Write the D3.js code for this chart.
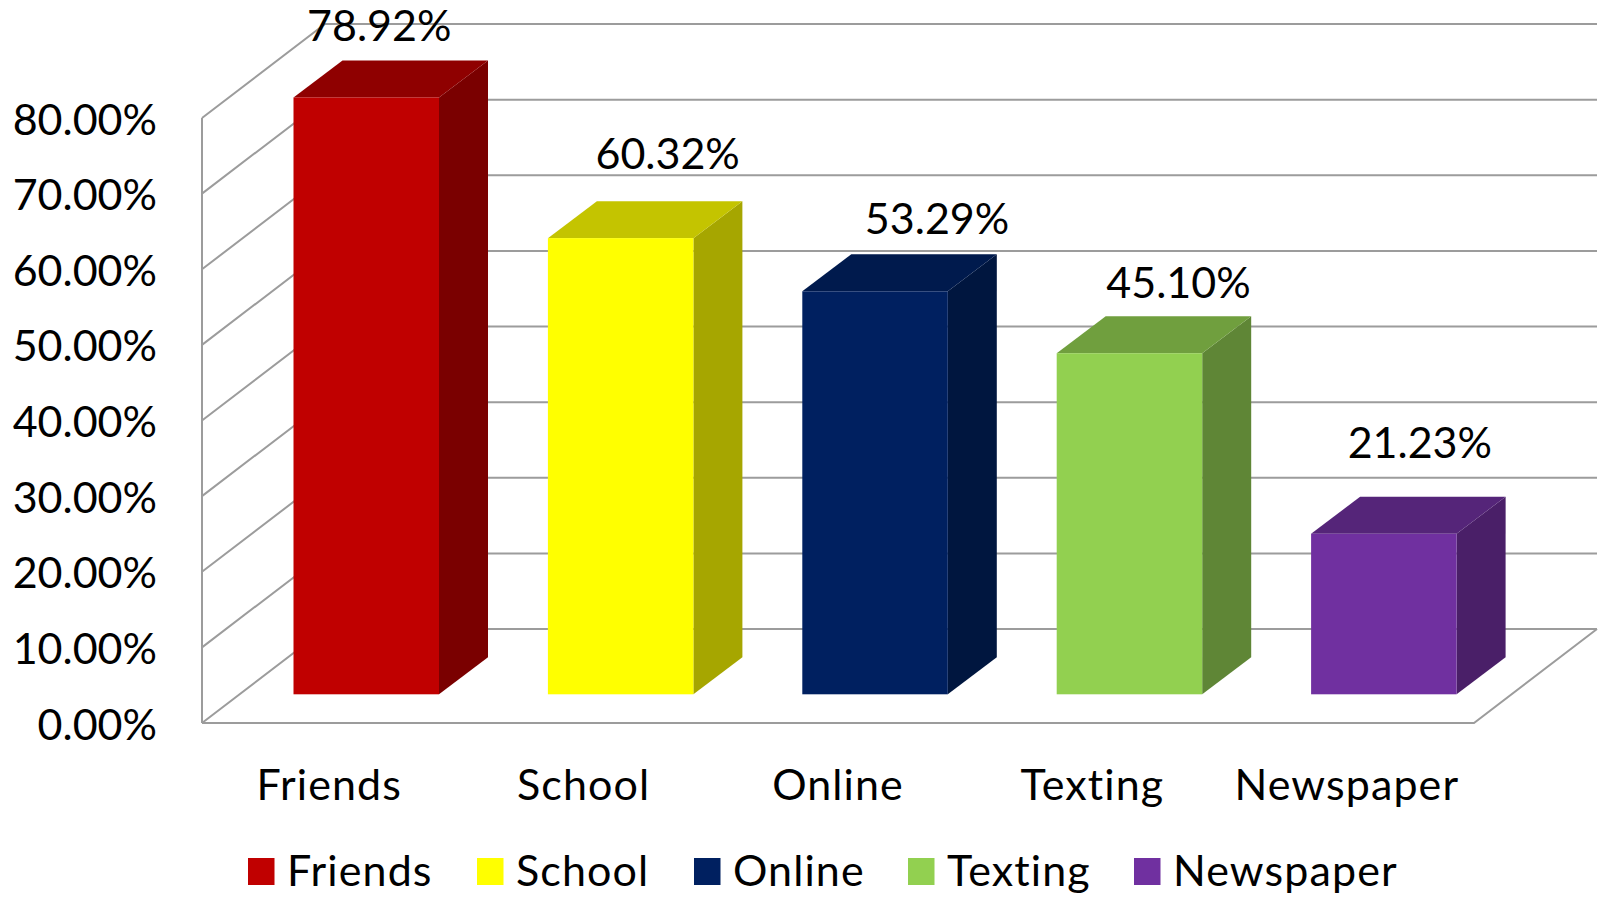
<!DOCTYPE html>
<html>
<head>
<meta charset="utf-8">
<script src="https://cdn.jsdelivr.net/npm/d3@7"></script>
<style>
  html, body { margin: 0; padding: 0; background: #fff; }
  svg { display: block; }
  text { font-family: Lato, "Open Sans", sans-serif; fill: #000; font-variant-ligatures: none; }
</style>
</head>
<body>
<svg id="chart" width="1599" height="898"></svg>
<script>
const categories = ["Friends", "School", "Online", "Texting", "Newspaper"];
const values = [78.92, 60.32, 53.29, 45.10, 21.23];
const yTicks = [0, 10, 20, 30, 40, 50, 60, 70, 80];
const frontColors = ["#c00000", "#ffff00", "#002060", "#92d050", "#7030a0"];
const topColors = ["#8f0000", "#c4c400", "#001a4d", "#709f3e", "#552579"];
const sideColors = ["#7a0000", "#a6a600", "#00163f", "#5f8636", "#4a1f68"];

const svg = d3.select("#chart");
const fontSize = 43;
const wordSpacing = 1.1;
const gridColor = "#9c9c9c";

const x = d3.scaleBand().domain(categories).range([202, 1474]);
const y = d3.scaleLinear().domain([0, 80]).range([723, 118]);

// depth of the wall and of the bars
const wallDx = 123, wallDy = -94;
const barDx = 49, barDy = -37;
const barWidth = 145.5;
const barInset = 91.5;
const barLift = 28.7;

// walls and gridlines
const grid = svg.append("g").attr("fill", "none").attr("stroke", gridColor).attr("stroke-width", 2);
grid.selectAll("polyline").data(yTicks).enter().append("polyline")
    .attr("points", d => {
        const yy = y(d);
        return [[202, yy], [202 + wallDx, yy + wallDy], [1597, yy + wallDy]].join(" ");
    });
grid.append("line").attr("x1", 202).attr("x2", 202).attr("y1", y(80)).attr("y2", y(0));
grid.append("polyline")
    .attr("points", [[202, y(0)], [1474, y(0)], [1474 + wallDx, y(0) + wallDy]].join(" "));

// bars
const bars = svg.append("g").selectAll("g").data(categories).enter().append("g");

function barFront(d, i) {
    const left = x(d) + barInset;
    return { left: left, right: left + barWidth, top: y(values[i]) - barLift, bottom: y(0) - barLift };
}

bars.append("path")
    .attr("fill", (d, i) => sideColors[i])
    .attr("d", (d, i) => {
        const b = barFront(d, i);
        return `M${b.right},${b.top}l${barDx},${barDy}V${b.bottom + barDy}l${-barDx},${-barDy}Z`;
    });
bars.append("path")
    .attr("fill", (d, i) => topColors[i])
    .attr("d", (d, i) => {
        const b = barFront(d, i);
        return `M${b.left},${b.top}l${barDx},${barDy}H${b.right + barDx}l${-barDx},${-barDy}Z`;
    });
bars.append("rect")
    .attr("fill", (d, i) => frontColors[i])
    .attr("x", (d, i) => barFront(d, i).left)
    .attr("y", (d, i) => barFront(d, i).top)
    .attr("width", barWidth)
    .attr("height", (d, i) => barFront(d, i).bottom - barFront(d, i).top);

// value labels were placed by hand in the original, so each has its own offset
const labelDx = [13, 47, 62, 49, 36];
const labelDy = [-56, -69, -57, -55, -76];
bars.append("text")
    .attr("text-anchor", "middle")
    .attr("font-size", fontSize)
    .attr("x", (d, i) => barFront(d, i).left + barWidth / 2 + labelDx[i])
    .attr("y", (d, i) => barFront(d, i).top + labelDy[i])
    .text((d, i) => values[i].toFixed(2) + "%");

// y axis
const yAxis = d3.axisLeft(y).tickValues(yTicks).tickSize(0).tickPadding(45)
    .tickFormat(d => d.toFixed(2) + "%");
svg.append("g").attr("transform", "translate(202,0)").call(yAxis)
    .call(g => g.select(".domain").remove())
    .selectAll("text").attr("font-size", fontSize).attr("dy", 16);

// x axis
const xAxis = d3.axisBottom(x).tickSize(0).tickPadding(0);
svg.append("g").attr("transform", "translate(0,800)").call(xAxis)
    .call(g => g.select(".domain").remove())
    .selectAll("text").attr("font-size", fontSize).attr("letter-spacing", wordSpacing).attr("dy", 0).attr("y", 0);

// legend
const legendX = [248, 477, 694, 908, 1134];
const legend = svg.append("g").selectAll("g").data(categories).enter().append("g")
    .attr("transform", (d, i) => `translate(${legendX[i]},858)`);
legend.append("rect").attr("width", 26.5).attr("height", 27).attr("fill", (d, i) => frontColors[i]);
legend.append("text").attr("x", 39).attr("y", 28).attr("font-size", fontSize)
    .attr("letter-spacing", wordSpacing).text(d => d);
</script>
</body>
</html>
